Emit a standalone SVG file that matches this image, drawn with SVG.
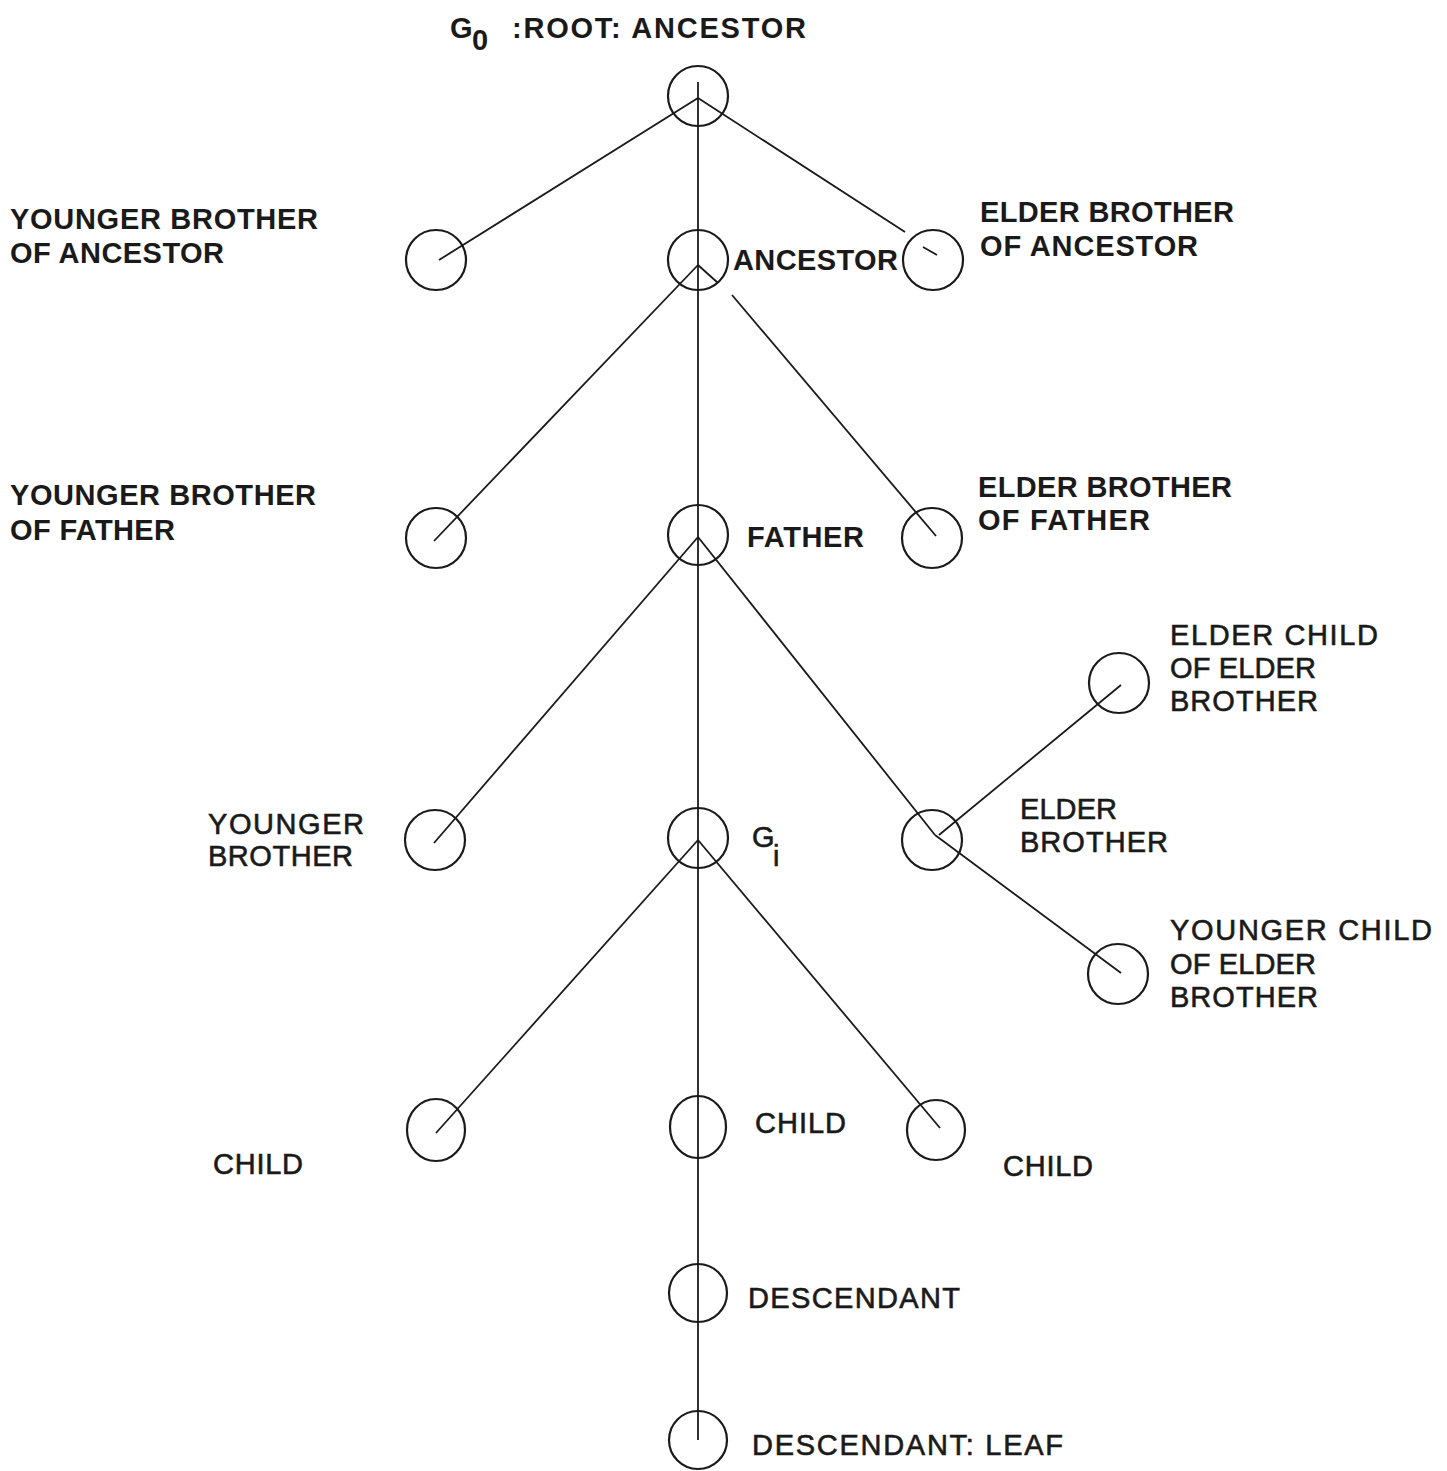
<svg xmlns="http://www.w3.org/2000/svg" width="1447" height="1471" viewBox="0 0 1447 1471">
<style>
.n{fill:none;stroke:#1a1a1a;stroke-width:2.2}
.e line{stroke:#1a1a1a;stroke-width:1.8;fill:none}
text{font-family:"Liberation Sans",Arial,sans-serif;fill:#1a1a1a;font-size:29px}
.b{font-weight:bold}
.r{font-weight:normal;stroke:#1a1a1a;stroke-width:0.6}
</style>
<rect width="1447" height="1471" fill="#fff"/>
<g id="connectors" class="e">
<line x1="698" y1="82" x2="698" y2="1440"/>
<line x1="698" y1="98" x2="439" y2="260"/>
<line x1="698" y1="98" x2="905" y2="232"/>
<line x1="923" y1="247" x2="937" y2="255"/>
<line x1="698" y1="265" x2="434" y2="541"/>
<line x1="698" y1="265" x2="718" y2="283"/>
<line x1="732" y1="295" x2="936" y2="536"/>
<line x1="698" y1="537" x2="434" y2="843"/>
<line x1="698" y1="537" x2="935" y2="835"/>
<line x1="939" y1="835" x2="1121" y2="685"/>
<line x1="935" y1="835" x2="1121" y2="973"/>
<line x1="698" y1="840" x2="436" y2="1133"/>
<line x1="698" y1="840" x2="940" y2="1128"/>
</g>
<g id="root"><circle class="n" cx="698" cy="96" r="30"/>
<text class="b" x="450" y="38" font-size="27">G</text><text class="b" x="472" y="50" font-size="19">0</text>
<text class="b" x="512" y="38" textLength="294" lengthAdjust="spacing">:ROOT: ANCESTOR</text></g>
<g id="younger-brother-of-ancestor"><circle class="n" cx="436" cy="260" r="30"/>
<text class="b" x="10" y="229" textLength="308" lengthAdjust="spacing">YOUNGER BROTHER</text>
<text class="b" x="10" y="263" textLength="214" lengthAdjust="spacing">OF ANCESTOR</text></g>
<g id="ancestor"><circle class="n" cx="698" cy="260" r="30"/>
<text class="b" x="733" y="270" textLength="165" lengthAdjust="spacing">ANCESTOR</text></g>
<g id="elder-brother-of-ancestor"><circle class="n" cx="933" cy="260" r="30"/>
<text class="b" x="980" y="222" textLength="254" lengthAdjust="spacing">ELDER BROTHER</text>
<text class="b" x="980" y="256" textLength="218" lengthAdjust="spacing">OF ANCESTOR</text></g>
<g id="younger-brother-of-father"><circle class="n" cx="436" cy="538" r="30"/>
<text class="b" x="10" y="505" textLength="306" lengthAdjust="spacing">YOUNGER BROTHER</text>
<text class="b" x="10" y="540" textLength="165" lengthAdjust="spacing">OF FATHER</text></g>
<g id="father"><circle class="n" cx="698" cy="535" r="30"/>
<text class="b" x="747" y="547" textLength="117" lengthAdjust="spacing">FATHER</text></g>
<g id="elder-brother-of-father"><circle class="n" cx="932" cy="538" r="30"/>
<text class="b" x="978" y="497" textLength="254" lengthAdjust="spacing">ELDER BROTHER</text>
<text class="b" x="978" y="530" textLength="172" lengthAdjust="spacing">OF FATHER</text></g>
<g id="younger-brother"><circle class="n" cx="435" cy="840" r="30"/>
<text class="r" x="208" y="834" textLength="156" lengthAdjust="spacing">YOUNGER</text>
<text class="r" x="208" y="866" textLength="145" lengthAdjust="spacing">BROTHER</text></g>
<g id="gi"><circle class="n" cx="698" cy="838" r="30"/>
<text class="r" x="752" y="847" font-size="22">G</text><text class="r" x="773" y="866" font-size="18">i</text></g>
<g id="elder-brother"><circle class="n" cx="932" cy="840" r="30"/>
<text class="r" x="1020" y="819" textLength="97" lengthAdjust="spacing">ELDER</text>
<text class="r" x="1020" y="852" textLength="148" lengthAdjust="spacing">BROTHER</text></g>
<g id="elder-child-of-elder-brother"><circle class="n" cx="1119" cy="683" r="30"/>
<text class="r" x="1170" y="645" textLength="208" lengthAdjust="spacing">ELDER  CHILD</text>
<text class="r" x="1170" y="678" textLength="146" lengthAdjust="spacing">OF ELDER</text>
<text class="r" x="1170" y="711" textLength="148" lengthAdjust="spacing">BROTHER</text></g>
<g id="younger-child-of-elder-brother"><circle class="n" cx="1118" cy="974" r="30"/>
<text class="r" x="1170" y="940" textLength="262" lengthAdjust="spacing">YOUNGER CHILD</text>
<text class="r" x="1170" y="974" textLength="146" lengthAdjust="spacing">OF ELDER</text>
<text class="r" x="1170" y="1007" textLength="148" lengthAdjust="spacing">BROTHER</text></g>
<g id="child-left"><ellipse class="n" cx="436" cy="1130" rx="29" ry="31"/>
<text class="r" x="213" y="1174" textLength="90" lengthAdjust="spacing">CHILD</text></g>
<g id="child-middle"><ellipse class="n" cx="698" cy="1127" rx="28" ry="31"/>
<text class="r" x="755" y="1133" textLength="91" lengthAdjust="spacing">CHILD</text></g>
<g id="child-right"><ellipse class="n" cx="936" cy="1130" rx="29" ry="30"/>
<text class="r" x="1003" y="1176" textLength="90" lengthAdjust="spacing">CHILD</text></g>
<g id="descendant"><circle class="n" cx="698" cy="1293" r="29"/>
<text class="r" x="748" y="1308" textLength="212" lengthAdjust="spacing">DESCENDANT</text></g>
<g id="descendant-leaf"><circle class="n" cx="698" cy="1440" r="29"/>
<text class="r" x="752" y="1455" textLength="311" lengthAdjust="spacing">DESCENDANT: LEAF</text></g>
</svg>
